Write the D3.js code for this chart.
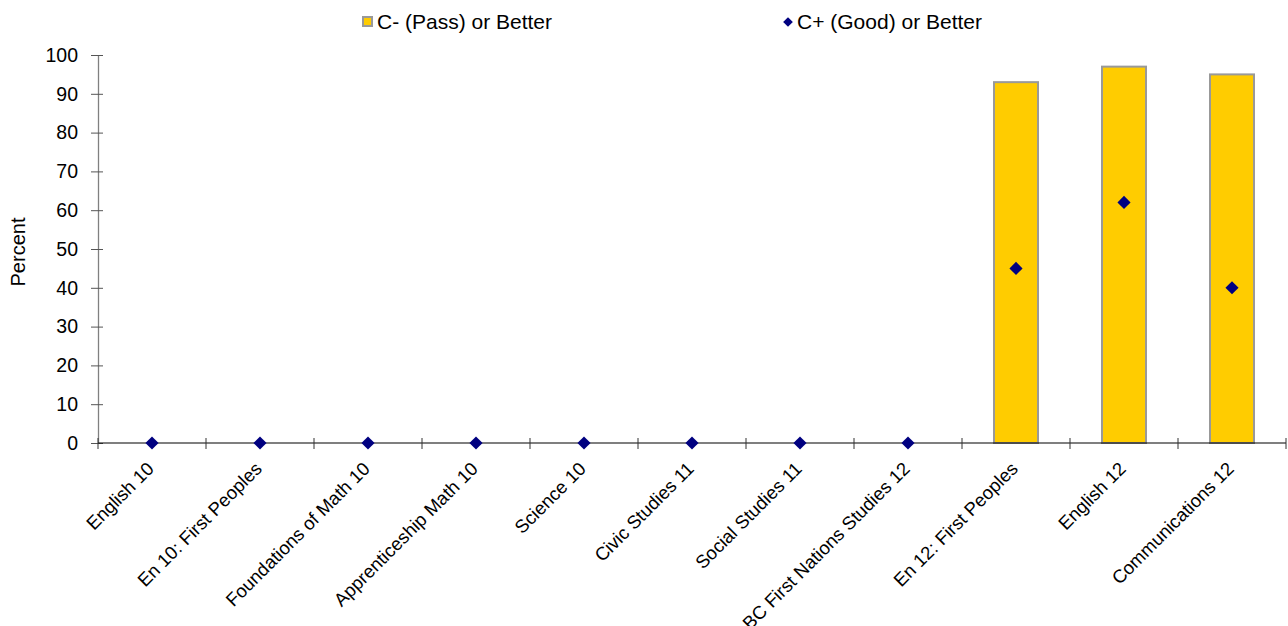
<!DOCTYPE html>
<html><head><meta charset="utf-8">
<script src="https://cdn.jsdelivr.net/npm/d3@7"></script>
<style>body{margin:0;background:#fff;} text{font-family:"Liberation Sans",Arial,sans-serif;}</style>
</head><body>
<svg id="c" width="1288" height="626"></svg>
<script>
const categories = ["English 10","En 10: First Peoples","Foundations of Math 10","Apprenticeship Math 10","Science 10","Civic Studies 11","Social Studies 11","BC First Nations Studies 12","En 12: First Peoples","English 12","Communications 12"];
const passValues = [0,0,0,0,0,0,0,0,93,97,95];
const goodValues = [0,0,0,0,0,0,0,0,45,62,40];
const yTicks = [0,10,20,30,40,50,60,70,80,90,100];
const seriesNames = ["C- (Pass) or Better","C+ (Good) or Better"];

(function(){
const svg = d3.select("#c");
const mLeft = 98, mRight = 1286, mTop = 55, mBottom = 443;
const xc = d3.scaleBand().domain(categories).range([mLeft, mRight]).padding(0);
const y = d3.scaleLinear().domain([0,100]).range([mBottom, mTop]);

// bars
svg.selectAll("rect.bar").data(categories.map((c,i)=>({c,v:passValues[i]})).filter(d=>d.v>0))
  .enter().append("rect").attr("class","bar")
  .attr("x", d=>xc(d.c)+xc.bandwidth()/2-22).attr("width",44)
  .attr("y", d=>y(d.v)).attr("height", d=>y(0)-y(d.v))
  .attr("fill","#FFCC00").attr("stroke","#999999").attr("stroke-width",2);

// y axis
const yAxis = d3.axisLeft(y).tickValues(yTicks).tickSize(0).tickPadding(20);
const gy = svg.append("g").attr("transform",`translate(${mLeft},0)`).call(yAxis);
gy.select(".domain").attr("stroke","#808080").attr("stroke-width",1.3);
gy.selectAll(".tick text").attr("font-size",19.5).attr("fill","#000").attr("font-family","Liberation Sans, Arial, sans-serif");
gy.selectAll(".tick").append("line").attr("x1",-7).attr("x2",5).attr("stroke","#555");

// x axis
const gx = svg.append("g").attr("transform",`translate(0,${mBottom})`);
gx.append("line").attr("x1",mLeft).attr("x2",mRight).attr("stroke","#000").attr("stroke-width",1.2);
const bounds = [...categories.map(c=>xc(c)), mRight];
gx.selectAll("line.t").data(bounds).enter().append("line").attr("class","t")
  .attr("x1",d=>d).attr("x2",d=>d).attr("y1",-5).attr("y2",6).attr("stroke","#333");
gx.selectAll("text.xl").data(categories).enter().append("text").attr("class","xl")
  .attr("transform", d=>`translate(${xc(d)+xc.bandwidth()/2+3},${27}) rotate(-45)`)
  .attr("text-anchor","end").attr("font-size",18.5).attr("fill","#000").text(d=>d);

// diamonds
const diamond = d3.symbol().type(d3.symbolDiamond2).size(110);
svg.selectAll("path.pt").data(categories.map((c,i)=>({c,v:goodValues[i]})))
  .enter().append("path").attr("class","pt").attr("d",diamond)
  .attr("transform", d=>`translate(${xc(d.c)+xc.bandwidth()/2},${y(d.v)})`)
  .attr("fill","#000080");

// y label
svg.append("text").attr("transform","translate(25,252) rotate(-90)").attr("text-anchor","middle")
  .attr("font-size",20).text("Percent");

// legend
svg.append("rect").attr("x",363).attr("y",17).attr("width",9).attr("height",9).attr("fill","#FFCC00").attr("stroke","#999").attr("stroke-width",2);
svg.append("text").attr("x",377).attr("y",29).attr("font-size",21).text(seriesNames[0]);
svg.append("path").attr("d",d3.symbol().type(d3.symbolDiamond2).size(60)).attr("transform","translate(788,22)").attr("fill","#000080");
svg.append("text").attr("x",797).attr("y",29).attr("font-size",21).text(seriesNames[1]);
})();
</script>
</body></html>
